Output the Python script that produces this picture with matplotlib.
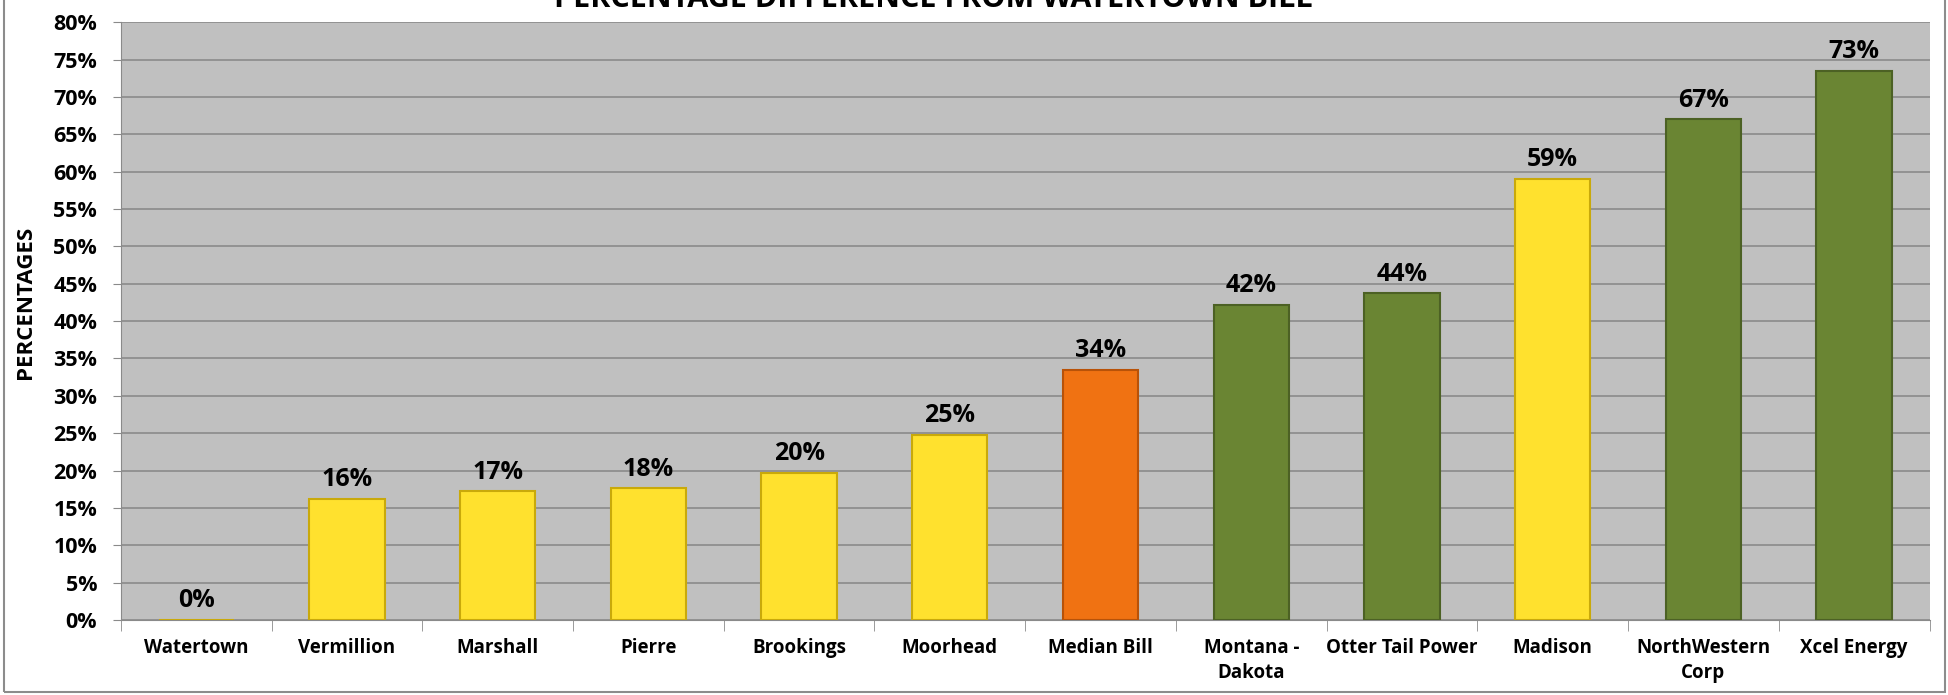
import numpy as np
import matplotlib.pyplot as plt
from matplotlib.patches import Rectangle

#Chart data
cities = ['Watertown', 'Vermillion', 'Marshall', 'Pierre', 'Brookings', 'Moorhead',
          'Median Bill', 'Montana -\nDakota', 'Otter Tail Power', 'Madison',
          'NorthWestern\nCorp', 'Xcel Energy']
pct = [0.0, 16.2, 17.2, 17.6, 19.7, 24.8, 33.5, 42.2, 43.7, 59.0, 67.0, 73.5]
labels = ['0%', '16%', '17%', '18%', '20%', '25%', '34%', '42%', '44%', '59%', '67%', '73%']
kind = ['city', 'city', 'city', 'city', 'city', 'city', 'median',
        'ior', 'ior', 'city', 'ior', 'ior']

#Colours per kind
face = {'city': '#FFE12E', 'median': '#F07212', 'ior': '#6A8533'}
edge = {'city': '#C9A90A', 'median': '#B85208', 'ior': '#4C6124'}

plt.rcParams['font.family'] = ['Open Sans', 'DejaVu Sans']
plt.rcParams['font.weight'] = 'bold'

fig = plt.figure(figsize=(19.49, 6.95), dpi=100)
ax = fig.add_axes([0.062, 0.108, 0.928, 0.860])

x = np.arange(len(cities))
bars = ax.bar(x, pct, width=0.5,
              color=[face[k] for k in kind],
              edgecolor=[edge[k] for k in kind], linewidth=1.5, zorder=3)

#Value labels above bars
for xi, v, s in zip(x, pct, labels):
    ax.text(xi, v + 0.9, s, ha='center', va='bottom', fontsize=18, fontweight='bold')

ax.set_facecolor('#C0C0C0')
ax.set_xlim(-0.5, len(cities) - 0.5)
ax.set_ylim(0, 80)
ax.set_yticks(np.arange(0, 81, 5))
ax.set_yticklabels([f'{v}%' for v in range(0, 81, 5)], fontsize=15.5, fontweight='bold')
ax.grid(axis='y', color='#8A8A8A', linewidth=1.2, zorder=0)
ax.set_axisbelow(True)

ax.set_xticks(x)
ax.set_xticklabels(cities, fontsize=13.5, fontweight='bold', linespacing=1.35)
ax.tick_params(axis='x', length=0, pad=13)
ax.set_xticks(np.arange(-0.5, len(cities), 1), minor=True)
ax.tick_params(axis='x', which='minor', length=8, color='#8A8A8A')
ax.tick_params(axis='y', length=6, color='#8A8A8A', pad=11)

for side in ['top', 'right']:
    ax.spines[side].set_visible(False)
ax.spines['left'].set_color('#8A8A8A')
ax.spines['bottom'].set_color('#8A8A8A')

#Title (clipped at top like the original) and y label
fig.text(0.479, 0.990, 'PERCENTAGE DIFFERENCE FROM WATERTOWN BILL',
         ha='center', va='baseline', fontsize=22, fontweight='bold')
fig.text(0.013, 0.565, 'PERCENTAGES', rotation=90, ha='center', va='center',
         fontsize=16, fontweight='bold')

#Outer chart border
fig.patches.append(Rectangle((0.002, 0.005), 0.996, 1.2, transform=fig.transFigure,
                             fill=False, edgecolor='#8C8C8C', linewidth=1.5))

plt.savefig('out.png', dpi=100)
